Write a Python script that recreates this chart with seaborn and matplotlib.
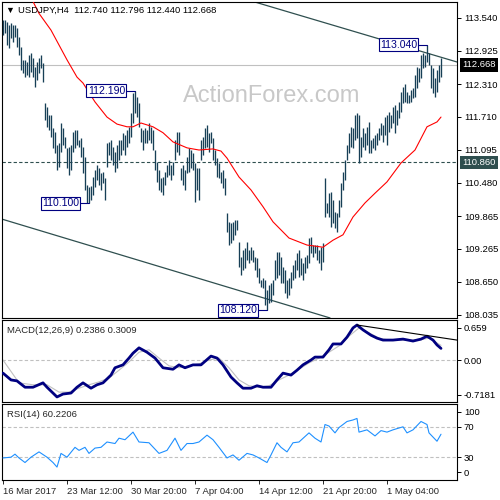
import matplotlib
matplotlib.use("Agg")
import matplotlib.pyplot as plt
import matplotlib.transforms as mtransforms
import seaborn as sns

# ---------------- DATA ----------------
# USDJPY H4 bars, bar index 0 = 16 Mar 2017
highs = [
    113.50, 113.50, 113.46, 113.40, 113.44, 113.40, 113.40, 113.35, 113.18, 113.00,
    112.76, 112.76, 112.72, 112.85, 112.89, 112.79, 112.63, 112.72, 112.79, 112.85,
    112.70, 111.96, 111.89, 111.74, 111.74, 111.50, 111.42, 111.18, 111.22, 111.59,
    111.50, 111.33, 111.13, 111.15, 111.18, 111.42, 111.46,
    111.46, 111.28, 111.31,
    111.15, 110.96, 110.44, 110.41, 110.43, 110.59, 110.72, 110.81, 110.76, 110.67,
    110.68, 110.57, 111.22, 111.24, 111.28, 111.15, 111.05, 111.18, 111.28, 111.28,
    111.40, 111.37, 111.46, 111.52, 111.78, 112.15, 112.19, 112.07, 111.96, 111.50,
    111.46, 111.50, 111.46, 111.59,
    111.52, 111.46, 111.09, 110.87, 110.72, 110.57,
    110.59, 110.68, 110.81, 110.90, 110.81, 110.87, 111.28, 111.42, 111.42, 110.76,
    110.81, 110.72, 110.96, 111.13, 111.09, 111.03, 110.85, 110.76, 110.76, 111.28,
    111.33, 111.50, 111.55, 111.40, 111.42, 111.31, 111.09, 110.94, 110.85, 110.68,
    110.72,
    110.57, 109.92, 109.76, 109.74, 109.76, 109.79, 109.79, 109.39, 109.11,
    109.24, 109.28, 109.39, 109.24, 109.29, 109.24, 109.11, 109.09, 108.91, 108.68,
    108.72, 108.68, 108.50, 108.59, 108.63, 108.68, 109.05, 109.20, 109.20, 109.11,
    108.92, 108.87, 108.68, 108.72, 108.83, 108.96, 109.05, 109.18,
    109.24, 109.09,
    109.00, 109.11, 109.15, 109.46, 109.48, 109.33, 109.33, 109.33, 109.24, 109.29,
    109.37, 110.57, 110.11, 110.29, 110.31, 110.17, 109.94, 109.92, 110.17, 110.48,
    110.68, 110.90, 111.18, 111.40, 111.52, 111.50, 111.74, 111.78, 111.74, 111.33,
    111.50, 111.40, 111.52, 111.61, 111.28,
    111.31, 111.37, 111.40, 111.50, 111.59,
    111.55, 111.70, 111.74, 111.79, 111.74, 111.89, 111.92, 111.83, 111.98, 112.17,
    112.26, 112.31, 112.17, 112.11, 112.20, 112.24, 112.48, 112.63, 112.61, 112.85,
    112.89, 112.85, 113.04, 112.89, 112.66, 112.61, 112.42, 112.57, 112.66, 112.796,
]
lows = [
    113.22, 113.26, 113.04, 112.98, 113.16, 113.09, 113.18, 113.00, 112.85, 112.57,
    112.52, 112.44, 112.48, 112.44, 112.53, 112.44, 112.26, 112.39, 112.52, 112.61,
    112.35, 111.65, 111.52, 111.46, 111.33, 111.13, 111.03, 110.72, 110.78, 111.05,
    111.18, 111.13, 110.76, 110.63, 110.72, 111.05, 111.13,
    111.18, 111.15, 110.96,
    110.67, 110.35, 110.11, 110.10, 110.17, 110.26, 110.41, 110.53, 110.44, 110.35,
    110.48, 110.17, 110.78, 111.00, 110.90, 110.81, 110.68, 110.76, 110.90, 111.00,
    111.09, 111.00, 111.15, 111.22, 111.33, 111.59, 111.78, 111.70, 111.52, 111.24,
    111.09, 111.22, 111.22, 111.28,
    111.22, 111.09, 110.72, 110.50, 110.35, 110.31,
    110.26, 110.44, 110.59, 110.63, 110.53, 110.63, 110.90, 111.05, 111.00, 110.53,
    110.44, 110.35, 110.67, 110.68, 110.76, 110.72, 110.13, 110.35, 110.17, 110.90,
    111.00, 111.13, 111.15, 111.05, 111.22, 110.90, 110.81, 110.59, 110.57, 110.48,
    110.39,
    110.26, 109.57, 109.33, 109.37, 109.42, 109.52, 109.61, 108.92, 108.78,
    108.87, 108.91, 109.05, 109.00, 109.05, 109.02, 108.87, 108.74, 108.63, 108.55,
    108.54, 108.22, 108.12, 108.26, 108.28, 108.41, 108.68, 108.72, 108.78, 108.63,
    108.63, 108.44, 108.35, 108.41, 108.54, 108.68, 108.72, 108.87,
    108.74, 108.78,
    108.68, 108.81, 108.91, 109.00, 109.18, 109.11, 109.18, 109.05, 109.00, 108.87,
    109.02, 109.85, 109.92, 109.85, 109.66, 109.74, 109.65, 109.57, 109.85, 110.04,
    110.35, 110.53, 110.90, 111.03, 111.15, 111.13, 111.28, 111.31, 110.85, 110.96,
    111.15, 111.09, 111.18, 111.03, 111.03,
    111.13, 111.09, 111.18, 111.28, 111.37,
    111.24, 111.37, 111.18, 111.42, 111.50, 111.59, 111.40, 111.55, 111.68, 111.79,
    111.96, 111.98, 111.96, 111.96, 111.98, 112.05, 112.07, 112.24, 112.35, 112.42,
    112.61, 112.63, 112.72, 112.66, 112.24, 112.15, 112.07, 112.17, 112.35, 112.44,
]
bar_idx = list(range(len(highs)))

# moving average (red)
ma_idx = [15, 18, 24, 32, 37, 40, 46, 52, 57, 62, 65, 69, 75, 80, 85, 92, 98, 105, 109,
          112, 118, 124, 130, 135, 143, 152, 160, 165, 170, 175, 181, 186, 192, 199,
          206, 212, 217, 219]
ma_val = [113.84, 113.62, 113.31, 112.76, 112.44, 112.33, 111.98, 111.70, 111.57, 111.52,
          111.52, 111.59, 111.52, 111.41, 111.24, 111.13, 111.09, 111.11, 111.07,
          110.94, 110.59, 110.35, 110.04, 109.76, 109.46, 109.33, 109.29, 109.42, 109.52,
          109.85, 110.11, 110.29, 110.50, 110.85, 111.09, 111.52, 111.61, 111.70]

# MACD(12,26,9)
macd_idx = [0, 4, 7, 11, 15, 20, 22, 27, 30, 34, 37, 40, 44, 47, 50, 54, 56, 60, 63, 65,
            68, 72, 76, 80, 85, 88, 91, 95, 99, 104, 107, 110, 114, 117, 120, 124, 127,
            130, 134, 137, 140, 144, 147, 150, 154, 156, 160, 163, 165, 169, 172, 175,
            177, 180, 184, 187, 190, 195, 200, 205, 209, 212, 215, 217, 219]
macd_val = [-0.27, -0.41, -0.43, -0.56, -0.56, -0.47, -0.56, -0.76, -0.70, -0.68, -0.56,
            -0.47, -0.58, -0.51, -0.47, -0.31, -0.16, -0.10, 0.04, 0.14, 0.25, 0.16, 0.04,
            -0.16, -0.19, -0.10, -0.16, -0.10, -0.10, 0.08, 0.04, -0.10, -0.35, -0.47,
            -0.58, -0.58, -0.53, -0.56, -0.56, -0.41, -0.27, -0.31, -0.21, -0.10, 0.00,
            0.06, 0.06, 0.21, 0.33, 0.33, 0.47, 0.66, 0.72, 0.62, 0.51, 0.45, 0.41, 0.41,
            0.43, 0.39, 0.43, 0.49, 0.41, 0.31, 0.2386]
signal_idx = [0, 8, 15, 22, 28, 33, 38, 43, 48, 53, 58, 63, 68, 73, 78, 83, 88, 93, 98,
              103, 108, 113, 118, 123, 128, 133, 138, 143, 148, 153, 158, 163, 168, 173,
              178, 183, 188, 193, 198, 203, 208, 213, 219]
signal_val = [0.00, -0.47, -0.51, -0.51, -0.66, -0.66, -0.58, -0.51, -0.45, -0.37, -0.21,
              -0.04, 0.16, 0.21, 0.04, -0.12, -0.16, -0.12, -0.08, 0.00, 0.04, -0.16, -0.41,
              -0.53, -0.56, -0.53, -0.41, -0.31, -0.19, -0.06, 0.04, 0.16, 0.29, 0.49, 0.66,
              0.56, 0.45, 0.41, 0.41, 0.41, 0.41, 0.45, 0.3009]

# RSI(14)
rsi_idx = [0, 4, 6, 8, 11, 14, 18, 22, 25, 27, 29, 32, 36, 38, 41, 43, 46, 49, 52, 56,
           58, 61, 65, 68, 73, 78, 82, 86, 89, 92, 95, 98, 102, 105, 108, 112, 115, 118,
           122, 125, 128, 132, 134, 137, 139, 142, 145, 148, 153, 156, 159, 161, 163, 166,
           168, 172, 175, 177, 178, 182, 186, 189, 192, 195, 200, 202, 205, 209, 212, 213,
           217, 219]
rsi_val = [29, 30, 34, 29, 23, 30, 37, 30, 23, 17, 35, 30, 43, 39, 43, 35, 42, 43, 50, 48,
           55, 53, 63, 50, 49, 35, 39, 55, 39, 48, 48, 50, 59, 53, 43, 29, 33, 26, 35, 33,
           29, 23, 33, 49, 43, 37, 49, 50, 62, 55, 50, 73, 71, 62, 69, 77, 79, 81, 63, 66,
           58, 65, 63, 66, 70, 62, 66, 77, 73, 62, 51, 60.22]

date_ticks = [0, 32, 64, 96, 128, 160, 192]
date_labels = ["16 Mar 2017", "23 Mar 12:00", "30 Mar 20:00", "7 Apr 04:00",
               "14 Apr 12:00", "21 Apr 20:00", "1 May 04:00"]
price_ticks = [113.540, 112.925, 112.310, 111.710, 111.095, 110.480, 109.865,
               109.265, 108.650, 108.035]
macd_ticks = [0.659, 0.0, -0.7181]
macd_tick_labels = ["0.659", "0.00", "-0.7181"]
rsi_ticks = [90, 70, 30, 10]
rsi_tick_labels = ["100", "70", "30", "0"]

last_close = 112.668
support = 110.860
swing_points = [(66, 112.19, "112.190"), (43, 110.10, "110.100"),
                (132, 108.12, "108.120"), (212, 113.04, "113.040")]
# channel lines (bar index, price)
upper_line = ([126, 227], [113.83, 112.72])
lower_line = ([-0.5, 163.5], [109.81, 107.98])
macd_line = ([177, 227], [0.72, 0.41])

# ---------------- STYLE ----------------
sns.set_style("white")
plt.rcParams["font.family"] = ["Liberation Sans", "DejaVu Sans"]

bar_color = "#173f56"
slate = "#2f4f4f"
navy = "#000080"

fig = plt.figure(figsize=(5, 5), dpi=100)
ax = fig.add_axes([0.004, 0.364, 0.91, 0.632])
ax2 = fig.add_axes([0.004, 0.196, 0.91, 0.164])
ax3 = fig.add_axes([0.004, 0.04, 0.91, 0.152])

for a in (ax, ax2, ax3):
    a.set_xlim(-0.5, 227)
    for s in a.spines.values():
        s.set_color("black")
        s.set_linewidth(0.8)
    a.yaxis.tick_right()
    a.tick_params(axis="y", right=True, left=False, direction="out", length=3,
                  width=0.7, pad=2, labelsize=6.8, colors="black")
    a.set_xlabel("")
    a.set_ylabel("")

# ---------------- MAIN PANEL ----------------
ax.set_ylim(107.979, 113.831)
ax.axhline(last_close, color="#c0c0c0", lw=0.8, zorder=1)
ax.axhline(support, color=slate, lw=0.8, ls=(0, (3, 2)), zorder=1)
ax.vlines(bar_idx, lows, highs, color=bar_color, lw=0.95, zorder=3)
sns.lineplot(x=ma_idx, y=ma_val, ax=ax, color="red", lw=0.8, zorder=4)
ax.plot(*upper_line, color=slate, lw=0.9, zorder=2)
ax.plot(*lower_line, color=slate, lw=0.9, zorder=2)

for idx, price, lab in swing_points:
    ax.text(idx - 5, price, lab, ha="right", va="center", fontsize=7.6, color=navy,
            zorder=6,
            bbox=dict(boxstyle="square,pad=0.12", fc="white", ec=navy, lw=0.8))
    ax.plot([idx - 5, idx], [price, price], color=navy, lw=0.8, zorder=5)

ax.text(0.593, 0.703, "ActionForex.com", transform=ax.transAxes, fontsize=17,
        color="#c8c8c8", ha="center", va="center", zorder=0)

ax.set_xticks([])
ax.set_yticks(price_ticks)
ax.set_yticklabels([f"{p:.3f}" for p in price_ticks])

trans = mtransforms.blended_transform_factory(ax.transAxes, ax.transData)
ax.text(1.012, last_close, f"{last_close:.3f}", transform=trans, ha="left", va="center",
        fontsize=6.8, color="white", clip_on=False,
        bbox=dict(boxstyle="square,pad=0.25", fc="black", ec="none"))
ax.text(1.012, support, f"{support:.3f}", transform=trans, ha="left", va="center",
        fontsize=6.8, color="white", clip_on=False,
        bbox=dict(boxstyle="square,pad=0.25", fc=slate, ec="none"))

fig.text(0.011, 0.979, "\u25bc", fontsize=6.5, ha="left", va="center", color="black")
fig.text(0.036, 0.979, "USDJPY,H4  112.740 112.796 112.440 112.668", fontsize=6.8,
         ha="left", va="center", color="black")

# ---------------- MACD PANEL ----------------
ax2.set_ylim(-0.864, 0.823)
ax2.axhline(0, color="#c0c0c0", lw=0.8, ls=(0, (3, 2)), zorder=1)
sns.lineplot(x=signal_idx, y=signal_val, ax=ax2, color="#c0c0c0", lw=0.8, zorder=2)
sns.lineplot(x=macd_idx, y=macd_val, ax=ax2, color=navy, lw=2.0, zorder=3)
ax2.plot(*macd_line, color="black", lw=0.8, zorder=4)
ax2.set_xticks([])
ax2.set_yticks(macd_ticks)
ax2.set_yticklabels(macd_tick_labels)
ax2.set_xlim(-0.5, 227)
ax2.text(0.011, 0.878, "MACD(12,26,9) 0.2386 0.3009", transform=ax2.transAxes,
         fontsize=6.8, ha="left", va="center")

# ---------------- RSI PANEL ----------------
ax3.set_ylim(0, 100)
for lvl in (70, 30):
    ax3.axhline(lvl, color="#c0c0c0", lw=0.8, ls=(0, (3, 2)), zorder=1)
sns.lineplot(x=rsi_idx, y=rsi_val, ax=ax3, color="#1e90ff", lw=0.8, zorder=3)
ax3.set_yticks(rsi_ticks)
ax3.set_yticklabels(rsi_tick_labels)
ax3.set_xlim(-0.5, 227)
ax3.set_xticks(date_ticks)
ax3.set_xticklabels(date_labels, ha="left")
ax3.tick_params(axis="x", bottom=True, direction="out", length=3, width=0.7, pad=2,
                labelsize=6.8)
ax3.text(0.011, 0.868, "RSI(14) 60.2206", transform=ax3.transAxes,
         fontsize=6.8, ha="left", va="center")

fig.savefig("out.png", dpi=100, facecolor="white")
